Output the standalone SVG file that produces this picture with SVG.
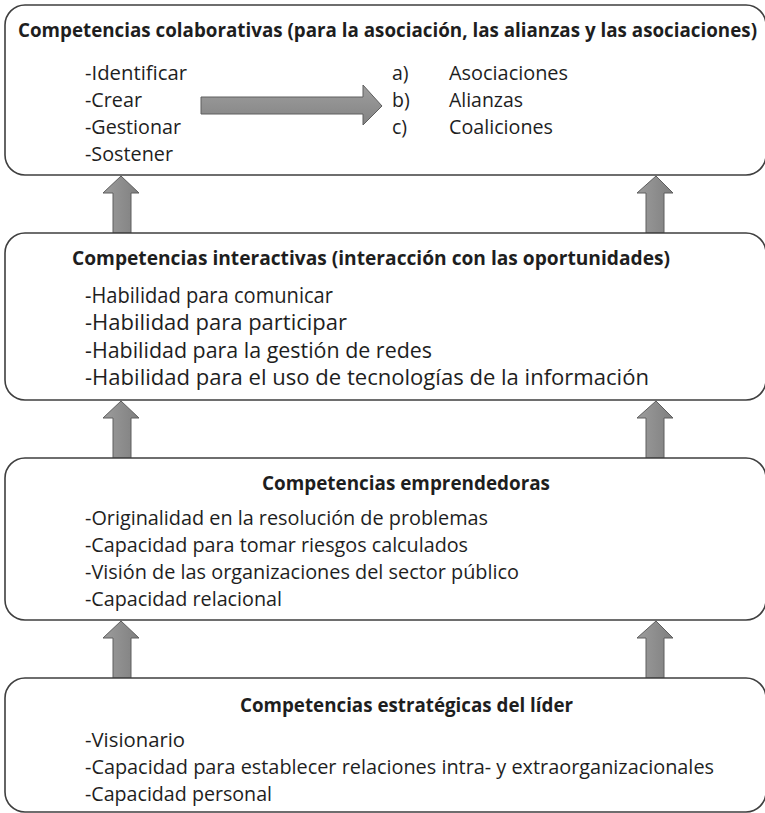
<svg xmlns="http://www.w3.org/2000/svg" width="765" height="813" viewBox="0 0 765 813">
<defs>
<linearGradient id="gv" x1="0" y1="0" x2="1" y2="0">
<stop offset="0" stop-color="#9c9c9c"/><stop offset="1" stop-color="#7f7f7f"/>
</linearGradient>
<linearGradient id="gh" x1="0" y1="0" x2="0" y2="1">
<stop offset="0" stop-color="#9e9e9e"/><stop offset="1" stop-color="#838383"/>
</linearGradient>
<style>
.box{fill:#fff;stroke:#3f3f3f;stroke-width:1.6}
.t{font-family:"Open Sans",Lato,"DejaVu Sans",sans-serif;font-size:19.5px;fill:#1e1e1e}
.b{font-weight:bold;font-size:19px}
.l{font-size:21.5px}
.arr{fill:url(#gv);stroke:#5e5e5e;stroke-width:1}
.harr{fill:url(#gh);stroke:#5e5e5e;stroke-width:1}
</style>
</defs>
<rect width="765" height="813" fill="#fff"/>
<g id="connectors">
<polygon class="arr" points="121,176 139,193 131,193 131,233 113,233 113,193 103,193"/>
<polygon class="arr" points="656,176 673,193 664,193 664,233 646,233 646,193 637,193"/>
<polygon class="arr" points="121,401 139,418 131,418 131,458 113,458 113,418 103,418"/>
<polygon class="arr" points="656,401 673,418 664,418 664,458 646,458 646,418 637,418"/>
<polygon class="arr" points="121,621 139,638 131,638 131,678 113,678 113,638 103,638"/>
<polygon class="arr" points="656,621 673,638 664,638 664,678 646,678 646,638 637,638"/>
</g>
<g id="node-colaborativas">
<rect class="box" x="5" y="5" width="761" height="170" rx="20" ry="20"/>
<text class="t b" x="18" y="37" textLength="739" lengthAdjust="spacingAndGlyphs">Competencias colaborativas (para la asociación, las alianzas y las asociaciones)</text>
<text class="t" x="85" y="80" textLength="102" lengthAdjust="spacingAndGlyphs">-Identificar</text>
<text class="t" x="85" y="107" textLength="57" lengthAdjust="spacingAndGlyphs">-Crear</text>
<text class="t" x="85" y="134" textLength="96" lengthAdjust="spacingAndGlyphs">-Gestionar</text>
<text class="t" x="85" y="161" textLength="88" lengthAdjust="spacingAndGlyphs">-Sostener</text>
<polygon class="harr" points="201,97 363,97 363,85 382,106 363,125 363,114 201,114"/>
<text class="t" x="392" y="80">a)</text>
<text class="t" x="392" y="107">b)</text>
<text class="t" x="392" y="134">c)</text>
<text class="t" x="449" y="80" textLength="119" lengthAdjust="spacingAndGlyphs">Asociaciones</text>
<text class="t" x="449" y="107" textLength="74" lengthAdjust="spacingAndGlyphs">Alianzas</text>
<text class="t" x="449" y="134" textLength="104" lengthAdjust="spacingAndGlyphs">Coaliciones</text>
</g>
<g id="node-interactivas">
<rect class="box" x="5" y="233" width="761" height="167" rx="20" ry="20"/>
<text class="t b" x="72" y="265" textLength="598" lengthAdjust="spacingAndGlyphs">Competencias interactivas (interacción con las oportunidades)</text>
<text class="t l" x="85" y="303" textLength="248" lengthAdjust="spacingAndGlyphs">-Habilidad para comunicar</text>
<text class="t l" x="85" y="330" textLength="262" lengthAdjust="spacingAndGlyphs">-Habilidad para participar</text>
<text class="t l" x="85" y="358" textLength="347" lengthAdjust="spacingAndGlyphs">-Habilidad para la gestión de redes</text>
<text class="t l" x="85" y="385" textLength="564" lengthAdjust="spacingAndGlyphs">-Habilidad para el uso de tecnologías de la información</text>
</g>
<g id="node-emprendedoras">
<rect class="box" x="5" y="458" width="761" height="162" rx="20" ry="20"/>
<text class="t b" x="262" y="490" textLength="288" lengthAdjust="spacingAndGlyphs">Competencias emprendedoras</text>
<text class="t" x="85" y="525" textLength="403" lengthAdjust="spacingAndGlyphs">-Originalidad en la resolución de problemas</text>
<text class="t" x="85" y="552" textLength="383" lengthAdjust="spacingAndGlyphs">-Capacidad para tomar riesgos calculados</text>
<text class="t" x="85" y="579" textLength="434" lengthAdjust="spacingAndGlyphs">-Visión de las organizaciones del sector público</text>
<text class="t" x="85" y="606" textLength="197" lengthAdjust="spacingAndGlyphs">-Capacidad relacional</text>
</g>
<g id="node-estrategicas">
<rect class="box" x="5" y="678" width="761" height="134" rx="20" ry="20"/>
<text class="t b" x="240" y="712" textLength="333" lengthAdjust="spacingAndGlyphs">Competencias estratégicas del líder</text>
<text class="t" x="85" y="747" textLength="100" lengthAdjust="spacingAndGlyphs">-Visionario</text>
<text class="t" x="85" y="774" textLength="629" lengthAdjust="spacingAndGlyphs">-Capacidad para establecer relaciones intra- y extraorganizacionales</text>
<text class="t" x="85" y="801" textLength="187" lengthAdjust="spacingAndGlyphs">-Capacidad personal</text>
</g>
</svg>
